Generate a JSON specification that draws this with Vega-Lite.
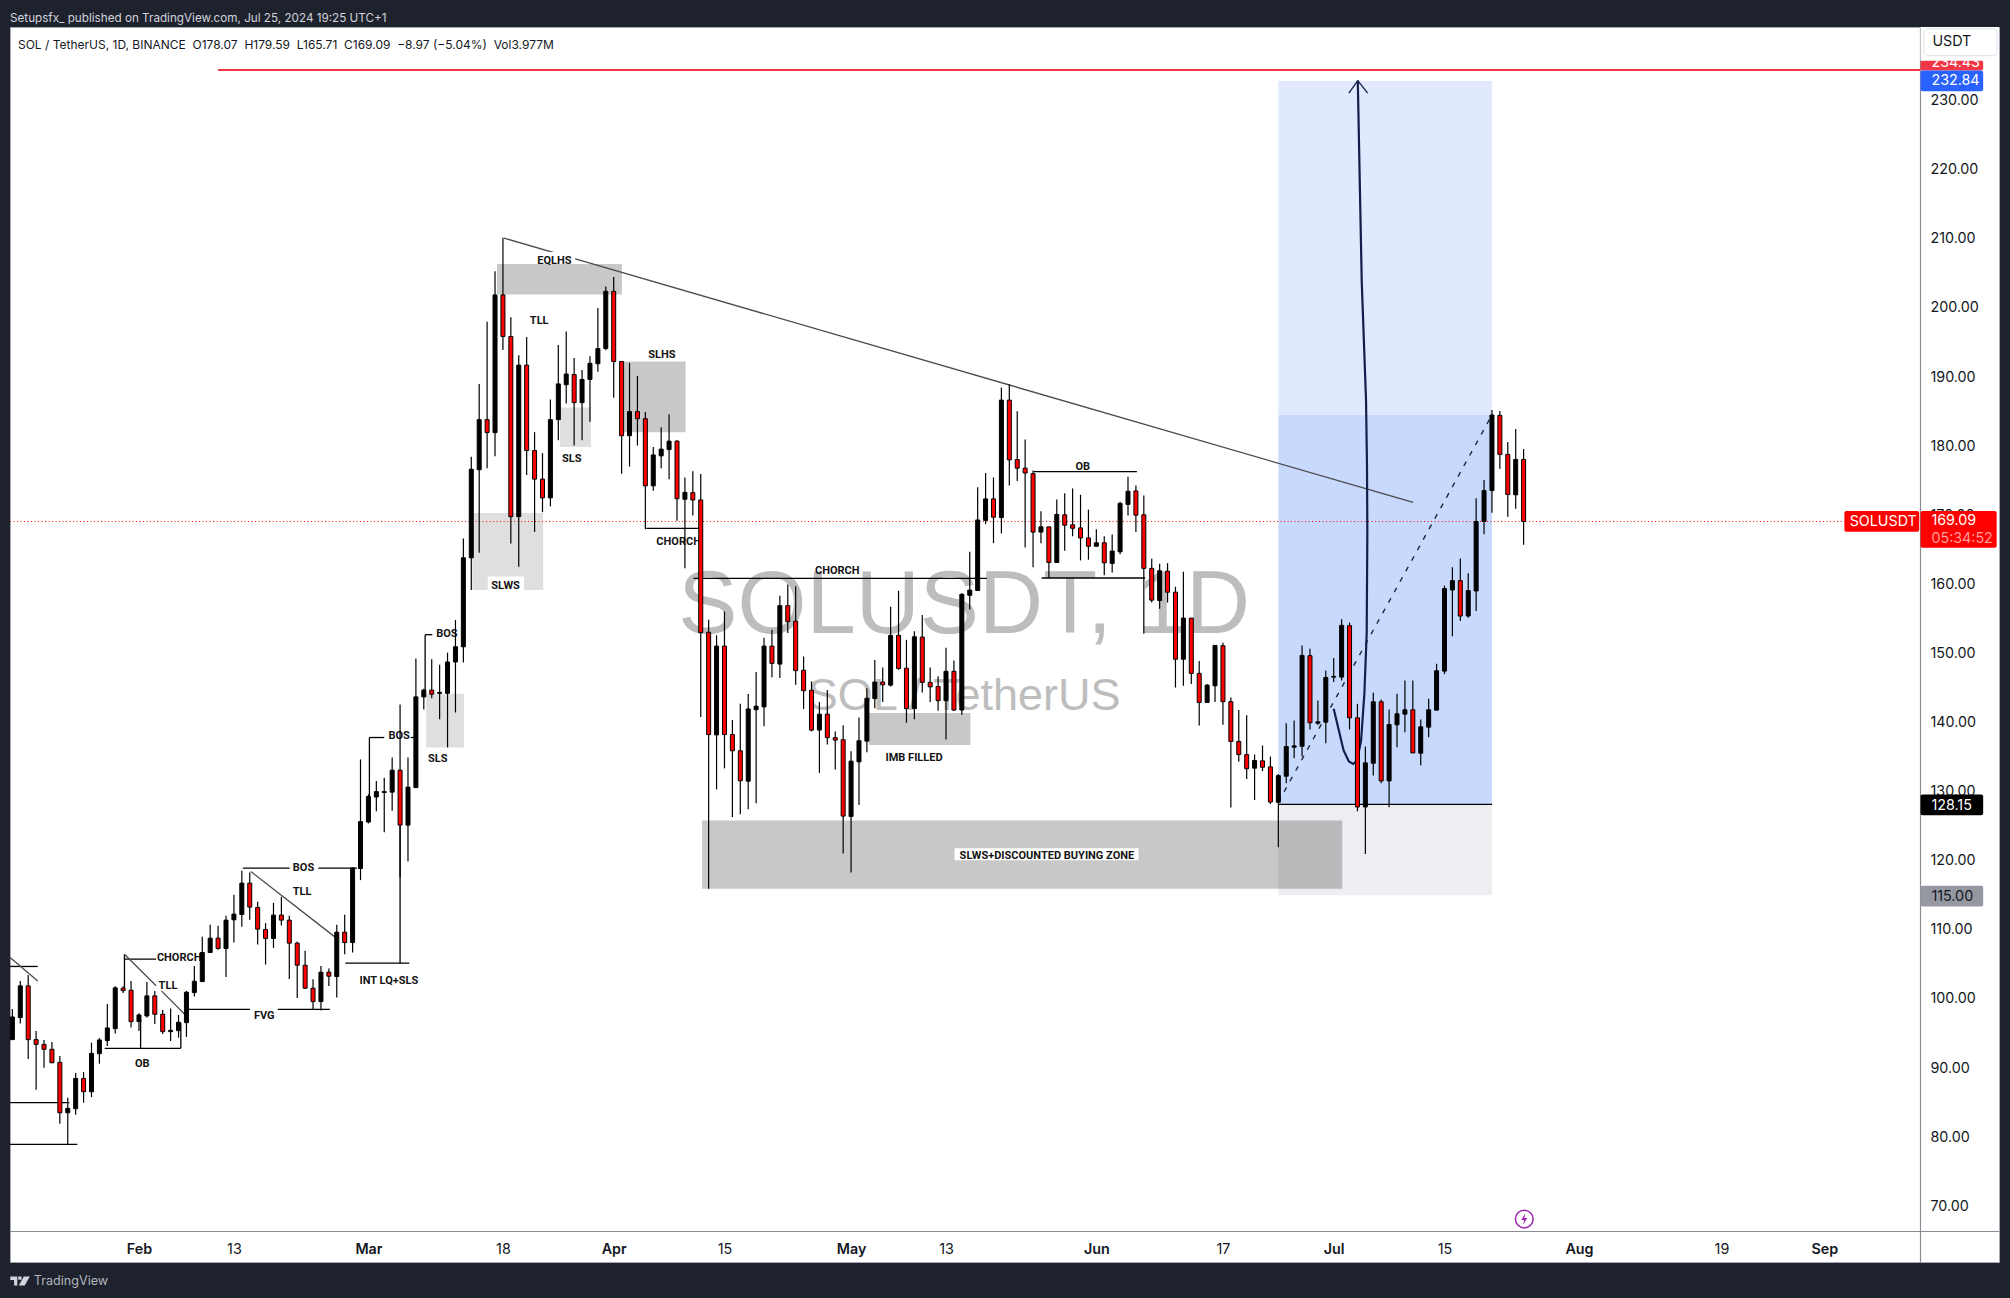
{"$schema":"https://vega.github.io/schema/vega-lite/v6.json","width":1989,"height":1235,"autosize":{"type":"none"},"padding":{"left":10,"top":27,"right":11,"bottom":36},"background":"#1e222d","view":{"fill":"white","stroke":"#a6a9b2"},
"title":{"text":"Setupsfx_ published on TradingView.com, Jul 25, 2024 19:25 UTC+1","anchor":"start","frame":"group","font":"Inter","fontSize":11.7,"fontWeight":400,"color":"#d1d4dc","offset":2},
"resolve":{"scale":{"color":"independent"}},
"datasets":{
"candles":[
{"date":"2024-01-16","open":94.11,"high":98.55,"low":94.11,"close":97.39},
{"date":"2024-01-17","open":97.3,"high":102.61,"low":96.43,"close":101.89},
{"date":"2024-01-18","open":101.89,"high":103.48,"low":91.31,"close":94.11},
{"date":"2024-01-19","open":94.11,"high":95.36,"low":86.86,"close":93.43},
{"date":"2024-01-20","open":93.43,"high":94.06,"low":90.05,"close":92.71},
{"date":"2024-01-21","open":92.71,"high":93.77,"low":90.68,"close":90.77},
{"date":"2024-01-22","open":90.82,"high":91.74,"low":81.93,"close":83.53},
{"date":"2024-01-23","open":83.53,"high":85.7,"low":78.94,"close":84.16},
{"date":"2024-01-24","open":84.11,"high":89.28,"low":83.24,"close":88.5},
{"date":"2024-01-25","open":88.5,"high":89.42,"low":84.98,"close":86.57},
{"date":"2024-01-26","open":86.57,"high":93.67,"low":85.8,"close":92.13},
{"date":"2024-01-27","open":92.08,"high":94.35,"low":90.63,"close":94.06},
{"date":"2024-01-28","open":93.96,"high":99.28,"low":93.19,"close":95.8},
{"date":"2024-01-29","open":95.7,"high":101.84,"low":94.98,"close":101.6},
{"date":"2024-01-30","open":101.55,"high":101.84,"low":100.87,"close":101.21},
{"date":"2024-01-31","open":101.26,"high":102.61,"low":95.85,"close":96.72},
{"date":"2024-02-01","open":96.72,"high":97.92,"low":95.36,"close":97.68},
{"date":"2024-02-02","open":97.54,"high":102.46,"low":97.3,"close":100.44},
{"date":"2024-02-03","open":100.44,"high":101.16,"low":96.38,"close":97.78},
{"date":"2024-02-04","open":97.78,"high":98.41,"low":94.93,"close":95.27},
{"date":"2024-02-05","open":95.27,"high":98.6,"low":93.91,"close":95.46},
{"date":"2024-02-06","open":95.41,"high":97.68,"low":94.4,"close":96.62},
{"date":"2024-02-07","open":96.57,"high":101.16,"low":94.49,"close":100.97},
{"date":"2024-02-08","open":100.92,"high":104.78,"low":100.34,"close":102.56},
{"date":"2024-02-09","open":102.51,"high":108.99,"low":102.51,"close":106.72},
{"date":"2024-02-10","open":106.72,"high":110.73,"low":106.72,"close":108.79},
{"date":"2024-02-11","open":108.79,"high":110.58,"low":107.1,"close":107.3},
{"date":"2024-02-12","open":107.3,"high":112.03,"low":103.19,"close":111.4},
{"date":"2024-02-13","open":111.45,"high":115.07,"low":108.17,"close":112.27},
{"date":"2024-02-14","open":112.22,"high":118.55,"low":110.44,"close":116.76},
{"date":"2024-02-15","open":116.76,"high":118.31,"low":111.45,"close":113.29},
{"date":"2024-02-16","open":113.24,"high":114.06,"low":107.88,"close":110.1},
{"date":"2024-02-17","open":110.05,"high":110.97,"low":104.98,"close":108.74},
{"date":"2024-02-18","open":108.74,"high":113.91,"low":107.39,"close":112.13},
{"date":"2024-02-19","open":112.13,"high":114.78,"low":110.63,"close":111.4},
{"date":"2024-02-20","open":111.4,"high":112.03,"low":102.9,"close":108.07},
{"date":"2024-02-21","open":108.07,"high":108.31,"low":100.15,"close":104.88},
{"date":"2024-02-22","open":104.88,"high":106.96,"low":101.45,"close":101.55},
{"date":"2024-02-23","open":101.55,"high":102.85,"low":98.55,"close":99.61},
{"date":"2024-02-24","open":99.61,"high":104.78,"low":98.31,"close":103.87},
{"date":"2024-02-25","open":103.87,"high":104.4,"low":101.88,"close":103.29},
{"date":"2024-02-26","open":103.24,"high":110.73,"low":100.2,"close":109.66},
{"date":"2024-02-27","open":109.66,"high":112.18,"low":106.48,"close":108.16},
{"date":"2024-02-28","open":108.16,"high":119.0,"low":106.72,"close":118.94},
{"date":"2024-02-29","open":118.87,"high":134.66,"low":117.19,"close":125.66},
{"date":"2024-03-01","open":125.6,"high":129.6,"low":125.4,"close":129.29},
{"date":"2024-03-02","open":129.22,"high":131.55,"low":127.15,"close":130.0},
{"date":"2024-03-03","open":129.87,"high":132.0,"low":124.11,"close":130.0},
{"date":"2024-03-04","open":129.93,"high":134.92,"low":127.22,"close":133.1},
{"date":"2024-03-05","open":133.1,"high":142.61,"low":117.64,"close":125.15},
{"date":"2024-03-06","open":125.15,"high":134.92,"low":119.9,"close":130.65},
{"date":"2024-03-07","open":130.58,"high":149.28,"low":130.58,"close":143.71},
{"date":"2024-03-08","open":143.71,"high":144.9,"low":141.9,"close":144.69},
{"date":"2024-03-09","open":144.69,"high":149.15,"low":143.52,"close":144.1},
{"date":"2024-03-10","open":144.23,"high":148.37,"low":140.48,"close":144.36},
{"date":"2024-03-11","open":144.23,"high":150.12,"low":136.4,"close":148.76},
{"date":"2024-03-12","open":148.76,"high":154.84,"low":141.45,"close":150.96},
{"date":"2024-03-13","open":150.96,"high":166.62,"low":148.7,"close":163.84},
{"date":"2024-03-14","open":163.84,"high":178.46,"low":159.18,"close":176.65},
{"date":"2024-03-15","open":176.58,"high":189.0,"low":164.55,"close":183.83},
{"date":"2024-03-16","open":183.83,"high":198.0,"low":176.78,"close":181.95},
{"date":"2024-03-17","open":181.95,"high":205.31,"low":178.52,"close":201.88},
{"date":"2024-03-18","open":201.88,"high":210.16,"low":193.92,"close":195.86},
{"date":"2024-03-19","open":195.86,"high":198.65,"low":165.91,"close":169.79},
{"date":"2024-03-20","open":169.79,"high":193.15,"low":162.54,"close":191.72},
{"date":"2024-03-21","open":191.72,"high":195.8,"low":175.81,"close":179.36},
{"date":"2024-03-22","open":179.36,"high":182.02,"low":167.59,"close":175.22},
{"date":"2024-03-23","open":175.22,"high":178.98,"low":170.44,"close":172.51},
{"date":"2024-03-24","open":172.51,"high":186.74,"low":171.28,"close":183.83},
{"date":"2024-03-25","open":183.83,"high":194.63,"low":180.85,"close":189.0},
{"date":"2024-03-26","open":188.88,"high":196.57,"low":186.16,"close":190.43},
{"date":"2024-03-27","open":190.36,"high":192.76,"low":180.08,"close":186.29},
{"date":"2024-03-28","open":186.29,"high":191.01,"low":180.85,"close":189.65},
{"date":"2024-03-29","open":189.65,"high":193.02,"low":183.51,"close":191.98},
{"date":"2024-03-30","open":191.92,"high":200.0,"low":190.75,"close":194.12},
{"date":"2024-03-31","open":194.12,"high":203.11,"low":193.86,"close":202.4},
{"date":"2024-04-01","open":202.4,"high":204.47,"low":187.0,"close":192.24},
{"date":"2024-04-02","open":192.24,"high":192.3,"low":176.0,"close":181.5},
{"date":"2024-04-03","open":181.5,"high":192.05,"low":177.04,"close":185.0},
{"date":"2024-04-04","open":185.0,"high":190.17,"low":180.08,"close":183.96},
{"date":"2024-04-05","open":183.96,"high":184.93,"low":167.98,"close":174.25},
{"date":"2024-04-06","open":174.25,"high":179.88,"low":173.54,"close":178.72},
{"date":"2024-04-07","open":178.59,"high":182.73,"low":176.78,"close":179.56},
{"date":"2024-04-08","open":179.5,"high":184.6,"low":175.22,"close":180.72},
{"date":"2024-04-09","open":180.72,"high":180.85,"low":169.21,"close":172.38},
{"date":"2024-04-10","open":172.31,"high":175.46,"low":162.31,"close":173.31},
{"date":"2024-04-11","open":173.26,"high":176.36,"low":169.96,"close":172.21},
{"date":"2024-04-12","open":172.21,"high":175.96,"low":140.81,"close":153.01},
{"date":"2024-04-13","open":153.06,"high":154.86,"low":115.96,"close":138.26},
{"date":"2024-04-14","open":138.21,"high":152.61,"low":130.31,"close":151.06},
{"date":"2024-04-15","open":151.06,"high":156.06,"low":133.36,"close":138.26},
{"date":"2024-04-16","open":138.26,"high":140.36,"low":126.31,"close":135.91},
{"date":"2024-04-17","open":135.91,"high":142.71,"low":126.71,"close":131.56},
{"date":"2024-04-18","open":131.51,"high":144.11,"low":127.46,"close":141.96},
{"date":"2024-04-19","open":141.86,"high":147.31,"low":128.31,"close":142.36},
{"date":"2024-04-20","open":142.26,"high":152.26,"low":139.46,"close":151.06},
{"date":"2024-04-21","open":151.06,"high":153.41,"low":146.56,"close":148.56},
{"date":"2024-04-22","open":148.46,"high":158.36,"low":146.46,"close":156.91},
{"date":"2024-04-23","open":156.91,"high":159.96,"low":152.96,"close":154.61},
{"date":"2024-04-24","open":154.66,"high":159.71,"low":145.46,"close":147.51},
{"date":"2024-04-25","open":147.56,"high":149.56,"low":141.96,"close":144.61},
{"date":"2024-04-26","open":144.66,"high":145.96,"low":138.71,"close":138.91},
{"date":"2024-04-27","open":138.91,"high":142.96,"low":132.71,"close":141.21},
{"date":"2024-04-28","open":141.21,"high":144.71,"low":136.81,"close":137.81},
{"date":"2024-04-29","open":137.81,"high":138.71,"low":133.21,"close":137.46},
{"date":"2024-04-30","open":137.51,"high":139.61,"low":121.06,"close":126.46},
{"date":"2024-05-01","open":126.41,"high":135.86,"low":118.31,"close":134.41},
{"date":"2024-05-02","open":134.31,"high":140.71,"low":128.06,"close":137.36},
{"date":"2024-05-03","open":137.31,"high":144.96,"low":135.71,"close":143.51},
{"date":"2024-05-04","open":143.46,"high":149.06,"low":142.06,"close":145.86},
{"date":"2024-05-05","open":145.86,"high":147.96,"low":142.96,"close":145.46},
{"date":"2024-05-06","open":145.41,"high":156.76,"low":145.21,"close":152.61},
{"date":"2024-05-07","open":152.61,"high":159.06,"low":147.61,"close":147.81},
{"date":"2024-05-08","open":147.86,"high":151.96,"low":139.96,"close":142.01},
{"date":"2024-05-09","open":142.01,"high":153.21,"low":140.46,"close":152.41},
{"date":"2024-05-10","open":152.36,"high":155.56,"low":144.36,"close":145.81},
{"date":"2024-05-11","open":145.81,"high":147.96,"low":142.96,"close":145.16},
{"date":"2024-05-12","open":145.21,"high":146.71,"low":141.71,"close":143.16},
{"date":"2024-05-13","open":143.16,"high":150.81,"low":137.56,"close":147.41},
{"date":"2024-05-14","open":147.41,"high":148.96,"low":141.66,"close":141.81},
{"date":"2024-05-15","open":141.81,"high":158.71,"low":141.11,"close":158.56},
{"date":"2024-05-16","open":158.41,"high":164.71,"low":156.36,"close":159.16},
{"date":"2024-05-17","open":159.11,"high":174.06,"low":159.06,"close":169.31},
{"date":"2024-05-18","open":169.26,"high":176.11,"low":168.71,"close":172.36},
{"date":"2024-05-19","open":172.36,"high":175.46,"low":165.96,"close":169.71},
{"date":"2024-05-20","open":169.66,"high":188.46,"low":167.36,"close":186.66},
{"date":"2024-05-21","open":186.66,"high":188.96,"low":174.31,"close":178.01},
{"date":"2024-05-22","open":178.06,"high":185.06,"low":174.96,"close":176.81},
{"date":"2024-05-23","open":176.81,"high":180.96,"low":165.31,"close":176.11},
{"date":"2024-05-24","open":176.01,"high":176.46,"low":162.46,"close":167.56},
{"date":"2024-05-25","open":167.56,"high":170.56,"low":165.96,"close":168.31},
{"date":"2024-05-26","open":168.31,"high":168.31,"low":160.96,"close":163.16},
{"date":"2024-05-27","open":163.16,"high":172.26,"low":163.16,"close":170.11},
{"date":"2024-05-28","open":170.06,"high":173.16,"low":164.86,"close":168.56},
{"date":"2024-05-29","open":168.61,"high":173.86,"low":166.96,"close":168.11},
{"date":"2024-05-30","open":168.16,"high":172.96,"low":163.46,"close":166.71},
{"date":"2024-05-31","open":166.71,"high":170.81,"low":163.56,"close":165.51},
{"date":"2024-06-01","open":165.51,"high":167.96,"low":165.46,"close":166.01},
{"date":"2024-06-02","open":166.01,"high":166.96,"low":161.31,"close":163.11},
{"date":"2024-06-03","open":163.01,"high":167.21,"low":161.71,"close":164.81},
{"date":"2024-06-04","open":164.71,"high":171.96,"low":164.36,"close":171.71},
{"date":"2024-06-05","open":171.56,"high":175.56,"low":169.96,"close":173.46},
{"date":"2024-06-06","open":173.51,"high":174.31,"low":167.56,"close":170.01},
{"date":"2024-06-07","open":170.06,"high":172.86,"low":152.86,"close":162.31},
{"date":"2024-06-08","open":162.31,"high":163.71,"low":157.36,"close":157.71},
{"date":"2024-06-09","open":157.66,"high":162.96,"low":156.46,"close":161.96},
{"date":"2024-06-10","open":161.91,"high":163.06,"low":157.36,"close":158.86},
{"date":"2024-06-11","open":158.86,"high":159.66,"low":145.06,"close":149.16},
{"date":"2024-06-12","open":149.16,"high":161.81,"low":145.31,"close":155.11},
{"date":"2024-06-13","open":155.11,"high":155.11,"low":145.56,"close":147.11},
{"date":"2024-06-14","open":147.11,"high":148.91,"low":139.56,"close":142.91},
{"date":"2024-06-15","open":142.91,"high":145.56,"low":142.86,"close":145.41},
{"date":"2024-06-16","open":145.31,"high":151.16,"low":142.96,"close":151.16},
{"date":"2024-06-17","open":151.11,"high":151.56,"low":139.66,"close":143.01},
{"date":"2024-06-18","open":143.01,"high":143.61,"low":127.71,"close":137.26},
{"date":"2024-06-19","open":137.26,"high":141.81,"low":134.31,"close":135.36},
{"date":"2024-06-20","open":135.36,"high":141.06,"low":131.81,"close":133.31},
{"date":"2024-06-21","open":133.39,"high":135.37,"low":128.8,"close":134.5},
{"date":"2024-06-22","open":134.45,"high":136.67,"low":132.95,"close":133.53},
{"date":"2024-06-23","open":133.58,"high":135.08,"low":128.2,"close":128.5},
{"date":"2024-06-24","open":128.46,"high":132.56,"low":121.94,"close":132.32},
{"date":"2024-06-25","open":132.23,"high":139.91,"low":131.21,"close":136.53},
{"date":"2024-06-26","open":136.43,"high":140.29,"low":134.83,"close":136.62},
{"date":"2024-06-27","open":136.57,"high":151.16,"low":135.08,"close":149.71},
{"date":"2024-06-28","open":149.67,"high":150.68,"low":138.99,"close":139.96},
{"date":"2024-06-29","open":139.9,"high":143.19,"low":139.66,"close":140.1},
{"date":"2024-06-30","open":140.05,"high":147.54,"low":137.0,"close":146.52},
{"date":"2024-07-01","open":146.57,"high":149.33,"low":145.85,"close":146.67},
{"date":"2024-07-02","open":146.57,"high":154.93,"low":146.09,"close":154.06},
{"date":"2024-07-03","open":154.01,"high":154.45,"low":138.99,"close":140.68},
{"date":"2024-07-04","open":140.68,"high":142.71,"low":127.15,"close":127.78},
{"date":"2024-07-05","open":127.78,"high":136.53,"low":120.97,"close":134.16},
{"date":"2024-07-06","open":134.11,"high":144.3,"low":132.32,"close":143.0},
{"date":"2024-07-07","open":143.0,"high":143.34,"low":131.21,"close":131.55},
{"date":"2024-07-08","open":131.55,"high":141.89,"low":127.74,"close":139.71},
{"date":"2024-07-09","open":139.67,"high":144.16,"low":136.43,"close":141.26},
{"date":"2024-07-10","open":141.21,"high":146.09,"low":138.6,"close":141.84},
{"date":"2024-07-11","open":141.84,"high":146.09,"low":135.6,"close":135.6},
{"date":"2024-07-12","open":135.56,"high":140.44,"low":133.82,"close":139.38},
{"date":"2024-07-13","open":139.33,"high":143.43,"low":137.88,"close":141.84},
{"date":"2024-07-14","open":141.79,"high":148.5,"low":141.79,"close":147.49},
{"date":"2024-07-15","open":147.44,"high":159.81,"low":147.0,"close":159.38},
{"date":"2024-07-16","open":159.18,"high":162.47,"low":152.47,"close":160.53},
{"date":"2024-07-17","open":160.53,"high":163.72,"low":154.69,"close":155.41},
{"date":"2024-07-18","open":155.41,"high":161.6,"low":155.17,"close":159.09},
{"date":"2024-07-19","open":159.04,"high":172.47,"low":156.14,"close":169.09},
{"date":"2024-07-20","open":169.09,"high":175.08,"low":167.25,"close":173.58},
{"date":"2024-07-21","open":173.58,"high":185.22,"low":170.34,"close":184.5},
{"date":"2024-07-22","open":184.45,"high":185.08,"low":176.72,"close":178.8},
{"date":"2024-07-23","open":178.8,"high":180.58,"low":169.76,"close":173.0},
{"date":"2024-07-24","open":172.95,"high":182.47,"low":170.92,"close":178.07},
{"date":"2024-07-25","open":178.07,"high":179.59,"low":165.71,"close":169.09}
],
"zones":[
{"kind":"target","d1":"2024-06-24","d2":"2024-07-21","p1":184.5,"p2":232.84},
{"kind":"profit","d1":"2024-06-24","d2":"2024-07-21","p1":128.15,"p2":184.5},
{"kind":"risk","d1":"2024-06-24","d2":"2024-07-21","p1":115,"p2":128.15},
{"kind":"dark","d1":"2024-03-17T06:00Z","d2":"2024-04-02T01:00Z","p1":201.95,"p2":206.34},
{"kind":"dark","d1":"2024-04-02T02:00Z","d2":"2024-04-10T02:00Z","p1":182.02,"p2":192.24},
{"kind":"light","d1":"2024-03-25T05:00Z","d2":"2024-03-29T03:00Z","p1":179.88,"p2":185.58},
{"kind":"light","d1":"2024-03-14T03:00Z","d2":"2024-03-23T02:00Z","p1":159.18,"p2":170.31},
{"kind":"light","d1":"2024-03-08T07:00Z","d2":"2024-03-13T02:00Z","p1":136.4,"p2":144.17},
{"kind":"dark","d1":"2024-04-12T04:00Z","d2":"2024-07-02T02:00Z","p1":115.96,"p2":125.81},
{"kind":"dark","d1":"2024-05-03T06:00Z","d2":"2024-05-16T02:00Z","p1":136.76,"p2":141.36}
],
"lines":[
{"kind":"ink","d1":"2024-01-15T17:00Z","p1":104.7,"d2":"2024-01-19T05:00Z","p2":104.7},
{"kind":"trend","d1":"2024-01-15T17:00Z","p1":106.0,"d2":"2024-01-19T05:00Z","p2":102.6},
{"kind":"ink","d1":"2024-01-15T17:00Z","p1":84.98,"d2":"2024-01-23T05:00Z","p2":84.98},
{"kind":"ink","d1":"2024-01-15T17:00Z","p1":78.94,"d2":"2024-01-24T05:00Z","p2":78.94},
{"kind":"ink","d1":"2024-01-30T04:00Z","p1":106.47,"d2":"2024-01-30T04:00Z","p2":101.55},
{"kind":"ink","d1":"2024-01-30T04:00Z","p1":105.75,"d2":"2024-02-03T04:00Z","p2":105.75},
{"kind":"trend","d1":"2024-01-30T04:00Z","p1":106.47,"d2":"2024-02-03T04:00Z","p2":101.9},
{"kind":"trend","d1":"2024-02-03T20:00Z","p1":101.16,"d2":"2024-02-07T00:00Z","p2":97.54},
{"kind":"ink","d1":"2024-01-27T16:00Z","p1":92.85,"d2":"2024-02-06T07:00Z","p2":92.85},
{"kind":"ink","d1":"2024-02-01T05:00Z","p1":97,"d2":"2024-02-01T05:00Z","p2":92.85},
{"kind":"ink","d1":"2024-02-06T07:00Z","p1":96.5,"d2":"2024-02-06T07:00Z","p2":92.85},
{"kind":"ink","d1":"2024-02-07T06:00Z","p1":98.5,"d2":"2024-02-15T01:00Z","p2":98.5},
{"kind":"ink","d1":"2024-02-18T13:00Z","p1":98.5,"d2":"2024-02-25T03:00Z","p2":98.5},
{"kind":"ink","d1":"2024-02-14T03:00Z","p1":118.94,"d2":"2024-02-20T01:00Z","p2":118.94},
{"kind":"ink","d1":"2024-02-23T16:00Z","p1":118.94,"d2":"2024-02-28T13:00Z","p2":118.94},
{"kind":"trend","d1":"2024-02-15T03:00Z","p1":118.45,"d2":"2024-02-25T23:00Z","p2":108.8},
{"kind":"ink","d1":"2024-02-27T02:00Z","p1":105.17,"d2":"2024-03-06T04:00Z","p2":105.17},
{"kind":"ink","d1":"2024-03-05","p1":125,"d2":"2024-03-05","p2":105.17},
{"kind":"ink","d1":"2024-03-01T03:00Z","p1":137.83,"d2":"2024-03-01T03:00Z","p2":129.3},
{"kind":"ink","d1":"2024-03-01T03:00Z","p1":137.83,"d2":"2024-03-03","p2":137.83},
{"kind":"ink","d1":"2024-03-06T08:00Z","p1":137.83,"d2":"2024-03-06T22:00Z","p2":137.83},
{"kind":"ink","d1":"2024-03-08T04:00Z","p1":152.71,"d2":"2024-03-08T04:00Z","p2":144.7},
{"kind":"ink","d1":"2024-03-08T04:00Z","p1":152.71,"d2":"2024-03-09T02:00Z","p2":152.71},
{"kind":"ink","d1":"2024-03-12T19:00Z","p1":152.71,"d2":"2024-03-13T02:00Z","p2":152.71},
{"kind":"ink","d1":"2024-04-05T03:00Z","p1":168.1,"d2":"2024-04-11T20:00Z","p2":168.1},
{"kind":"ink","d1":"2024-04-11T02:00Z","p1":160.86,"d2":"2024-05-18T04:00Z","p2":160.86},
{"kind":"ink","d1":"2024-05-24T02:00Z","p1":176.31,"d2":"2024-06-06T03:00Z","p2":176.31},
{"kind":"ink","d1":"2024-05-25T02:00Z","p1":160.91,"d2":"2024-06-07T04:00Z","p2":160.91},
{"kind":"ink","d1":"2024-06-24","p1":128.15,"d2":"2024-07-21","p2":128.15},
{"kind":"trend","d1":"2024-03-18T03:00Z","p1":210.1,"d2":"2024-07-11T01:00Z","p2":171.85},
{"kind":"arrow","d1":"2024-07-02T22:00Z","p1":231.08,"d2":"2024-07-04T01:00Z","p2":232.9},
{"kind":"arrow","d1":"2024-07-05T07:00Z","p1":231.08,"d2":"2024-07-04T01:00Z","p2":232.9}
],
"masks":[
{"d1":"2024-03-22T01:00Z","d2":"2024-03-27T03:00Z","p1":206.34,"p2":208.1},
{"d1":"2024-03-16T02:00Z","d2":"2024-03-20T16:00Z","p1":159.18,"p2":161.12},
{"d1":"2024-05-14T02:00Z","d2":"2024-06-06T08:00Z","p1":120.06,"p2":121.81}
],
"notes":[
{"label":"CHORCH","date":"2024-02-06T02:00Z","price":106.1},
{"label":"TLL","date":"2024-02-04T16:00Z","price":102.13},
{"label":"OB","date":"2024-02-01T10:00Z","price":90.87},
{"label":"FVG","date":"2024-02-16T20:00Z","price":97.68},
{"label":"BOS","date":"2024-02-21T19:00Z","price":119.13},
{"label":"TLL","date":"2024-02-21T15:00Z","price":115.65},
{"label":"INT LQ+SLS","date":"2024-03-03T14:00Z","price":102.85},
{"label":"BOS","date":"2024-03-04T21:00Z","price":138.2},
{"label":"BOS","date":"2024-03-10T22:00Z","price":153.03},
{"label":"SLS","date":"2024-03-09T18:00Z","price":134.92},
{"label":"SLWS","date":"2024-03-18T08:00Z","price":160.02},
{"label":"SLS","date":"2024-03-26T17:00Z","price":178.39},
{"label":"EQLHS","date":"2024-03-24T12:00Z","price":207.06},
{"label":"SLHS","date":"2024-04-07T02:00Z","price":193.47},
{"label":"TLL","date":"2024-03-22T14:00Z","price":198.26},
{"label":"CHORCH","date":"2024-04-09T05:00Z","price":166.36},
{"label":"CHORCH","date":"2024-04-29T06:00Z","price":162.11},
{"label":"OB","date":"2024-05-30T07:00Z","price":177.16},
{"label":"IMB FILLED","date":"2024-05-08T23:00Z","price":135.06},
{"label":"SLWS+DISCOUNTED BUYING ZONE","date":"2024-05-25T18:00Z","price":120.86}
],
"curve":[
{"i":1,"date":"2024-07-01T00:00Z","price":141.98},
{"i":2,"date":"2024-07-01T12:00Z","price":139.57},
{"i":3,"date":"2024-07-02T06:00Z","price":135.95},
{"i":4,"date":"2024-07-02T22:00Z","price":134.35},
{"i":5,"date":"2024-07-03T11:00Z","price":134.0},
{"i":6,"date":"2024-07-03T23:00Z","price":134.5},
{"i":7,"date":"2024-07-04T11:00Z","price":137.4},
{"i":8,"date":"2024-07-04T21:00Z","price":144.16},
{"i":9,"date":"2024-07-05T04:00Z","price":152.85},
{"i":10,"date":"2024-07-05T06:00Z","price":167.3},
{"i":11,"date":"2024-07-05T05:00Z","price":177.0},
{"i":12,"date":"2024-07-05T02:00Z","price":186.67},
{"i":13,"date":"2024-07-04T13:00Z","price":203.8},
{"i":14,"date":"2024-07-04T01:00Z","price":232.9}
],
"dash":[{"d1":"2024-06-24","p1":128.46,"d2":"2024-07-21","p2":184.5}],
"redline":[{"d1":"2024-02-11","p1":234.43,"d2":"2024-09-13T04:00Z","p2":234.43}],
"pricedots":[{"d1":"2024-01-15T17:00Z","p1":169.09,"d2":"2024-09-03T13:00Z","p2":169.09}],
"tags":[
{"kind":"alert","d1":"2024-09-13T04:00Z","d2":"2024-09-21T02:00Z","p1":234.35,"p2":235.8},
{"kind":"blue","d1":"2024-09-13T04:00Z","d2":"2024-09-21T02:00Z","p1":231.35,"p2":234.35},
{"kind":"last","d1":"2024-09-03T13:00Z","d2":"2024-09-13T00:00Z","p1":167.6,"p2":170.6},
{"kind":"last","d1":"2024-09-13T04:00Z","d2":"2024-09-22T19:00Z","p1":165.3,"p2":170.6},
{"kind":"black","d1":"2024-09-13T04:00Z","d2":"2024-09-21T02:00Z","p1":126.57,"p2":129.57},
{"kind":"stop","d1":"2024-09-13T04:00Z","d2":"2024-09-21T02:00Z","p1":113.38,"p2":116.38}
],
"tagtext":[
{"kind":"on","label":"234.43","date":"2024-09-14T13:00Z","price":235.5},
{"kind":"on","label":"232.84","date":"2024-09-14T13:00Z","price":232.8},
{"kind":"on","label":"169.09","date":"2024-09-14T13:00Z","price":169.1},
{"kind":"dim","label":"05:34:52","date":"2024-09-14T13:00Z","price":166.6},
{"kind":"on","label":"SOLUSDT","date":"2024-09-04T05:00Z","price":168.99},
{"kind":"on","label":"128.15","date":"2024-09-14T13:00Z","price":127.93},
{"kind":"off","label":"115.00","date":"2024-09-14T13:00Z","price":114.78}
],
"topcover":[{"d1":"2024-09-13T04:00Z","d2":"2024-09-23T02:00Z","p1":235.8,"p2":240.65}],
"unitbox":[{"label":"USDT","d1":"2024-09-13T14:00Z","d2":"2024-09-22T20:00Z","p1":236.5,"p2":240.4,"date":"2024-09-14T16:00Z","price":238.45}],
"legendline":[{"label":"SOL / TetherUS, 1D, BINANCE\u00a0\u00a0O178.07\u00a0\u00a0H179.59\u00a0\u00a0L165.71\u00a0\u00a0C169.09\u00a0\u00a0\u22128.97 (\u22125.04%)\u00a0\u00a0Vol3.977M","date":"2024-01-16T17:00Z","price":238.05}],
"footer":[{"label":"TradingView","date":"2024-01-18T17:00Z","price":59.18}],
"logo":[{"date":"2024-01-17T00:00Z","price":59.18}],
"bolt":[{"date":"2024-07-25T02:00Z","price":68.15}],
"big":[{"label":"SOLUSDT, 1D","date":"2024-05-15T07:00Z","price":156.9}],
"sub":[{"label":"SOL / TetherUS","date":"2024-05-15T07:00Z","price":143.8}]
},
"layer":[
{"data":{"name":"big","format":{"parse":{"date":"date"}}},"mark":{"type":"text","font":"Liberation Sans","fontSize":88.7,"color":"#bdbdbd","baseline":"middle","align":"center"},
"encoding":{"x":{"field":"date","type":"temporal","scale":{"type":"utc","nice":false,"padding":0,"domain":["2024-01-15T16:48:00Z","2024-09-23T02:00:00Z"]},"axis":{"title":null,"values":["2024-02-01","2024-02-13","2024-03-01","2024-03-18","2024-04-01","2024-04-15","2024-05-01","2024-05-13","2024-06-01","2024-06-17","2024-07-01","2024-07-15","2024-08-01","2024-08-19","2024-09-01"],"labelExpr":"utcdate(datum.value)===1?utcFormat(datum.value,'%b'):utcFormat(datum.value,'%d')","labelFontWeight":{"condition":{"test":"utcdate(datum.value)===1","value":600},"value":400},"offset":-31,"grid":false,"ticks":false,"labelPadding":11,"labelFont":"Inter","labelFontSize":14.3,"labelColor":"#131722","domainColor":"#8a8d96","domainWidth":1.2,"labelFlush":false,"labelOverlap":false,"labelBound":false}},
"y":{"field":"price","type":"quantitative","scale":{"domain":[61.93,240.65],"nice":false,"zero":false},"axis":{"title":null,"orient":"right","values":[70,80,90,100,110,120,130,140,150,160,170,180,190,200,210,220,230],"format":".2f","offset":-79,"grid":false,"ticks":false,"labelPadding":10,"labelFont":"Inter","labelFontSize":14.3,"labelColor":"#131722","domainColor":"#8a8d96","domainWidth":1.2,"labelOverlap":false,"labelBound":false}},
"text":{"field":"label"}}},
{"data":{"name":"sub","format":{"parse":{"date":"date"}}},"mark":{"type":"text","font":"Liberation Sans","fontSize":45,"color":"#bdbdbd","baseline":"middle","align":"center"},
"encoding":{"x":{"field":"date","type":"temporal"},"y":{"field":"price","type":"quantitative"},"text":{"field":"label"}}},
{"data":{"name":"zones","format":{"parse":{"d1":"date","d2":"date"}}},"mark":{"type":"rect"},
"encoding":{"x":{"field":"d1","type":"temporal"},"x2":{"field":"d2"},"y":{"field":"p1","type":"quantitative"},"y2":{"field":"p2"},"color":{"field":"kind","type":"nominal","legend":null,"scale":{"domain":["target","profit","risk","dark","light"],"range":["#e0e9fd","#c8d9fe","#edeef1","rgba(0,0,0,0.216)","rgba(0,0,0,0.125)"]}}}},
{"data":{"name":"redline","format":{"parse":{"d1":"date","d2":"date"}}},"mark":{"type":"rule","color":"#f23645","strokeWidth":2},
"encoding":{"x":{"field":"d1","type":"temporal"},"x2":{"field":"d2"},"y":{"field":"p1","type":"quantitative"},"y2":{"field":"p2"}}},
{"data":{"name":"pricedots","format":{"parse":{"d1":"date","d2":"date"}}},"mark":{"type":"rule","color":"#ff0000","strokeWidth":1,"strokeDash":[1,2.5]},
"encoding":{"x":{"field":"d1","type":"temporal"},"x2":{"field":"d2"},"y":{"field":"p1","type":"quantitative"},"y2":{"field":"p2"}}},
{"data":{"name":"dash","format":{"parse":{"d1":"date","d2":"date"}}},"mark":{"type":"rule","color":"#222633","strokeWidth":1.4,"strokeDash":[5,7]},
"encoding":{"x":{"field":"d1","type":"temporal"},"x2":{"field":"d2"},"y":{"field":"p1","type":"quantitative"},"y2":{"field":"p2"}}},
{"data":{"name":"lines","format":{"parse":{"d1":"date","d2":"date"}}},"mark":{"type":"rule","strokeWidth":1.3},
"encoding":{"x":{"field":"d1","type":"temporal"},"x2":{"field":"d2"},"y":{"field":"p1","type":"quantitative"},"y2":{"field":"p2"},"color":{"field":"kind","type":"nominal","legend":null,"scale":{"domain":["ink","trend","arrow"],"range":["#000000","#4a4a4a","#131f4a"]}}}},
{"data":{"name":"masks","format":{"parse":{"d1":"date","d2":"date"}}},"mark":{"type":"rect","color":"#ffffff"},
"encoding":{"x":{"field":"d1","type":"temporal"},"x2":{"field":"d2"},"y":{"field":"p1","type":"quantitative"},"y2":{"field":"p2"}}},
{"data":{"name":"notes","format":{"parse":{"date":"date"}}},"mark":{"type":"text","font":"Roboto","fontWeight":700,"fontSize":11,"color":"#131313","baseline":"middle","align":"center","dy":1.5},
"encoding":{"x":{"field":"date","type":"temporal"},"y":{"field":"price","type":"quantitative"},"text":{"field":"label"}}},
{"data":{"name":"curve","format":{"parse":{"date":"date"}}},"mark":{"type":"line","color":"#131f4a","strokeWidth":2.2},
"encoding":{"x":{"field":"date","type":"temporal"},"y":{"field":"price","type":"quantitative"},"order":{"field":"i"}}},
{"data":{"name":"candles","format":{"parse":{"date":"date"}}},"mark":{"type":"rule","color":"#000000","strokeWidth":1.2},
"encoding":{"x":{"field":"date","type":"temporal"},"y":{"field":"low","type":"quantitative"},"y2":{"field":"high"}}},
{"data":{"name":"candles","format":{"parse":{"date":"date"}}},"mark":{"type":"bar","size":4,"stroke":"#000000","strokeWidth":1},
"encoding":{"x":{"field":"date","type":"temporal","scale":{"type":"utc","nice":false,"padding":0,"domain":["2024-01-15T16:48:00Z","2024-09-23T02:00:00Z"]}},"y":{"field":"open","type":"quantitative"},"y2":{"field":"close"},"color":{"condition":{"test":"datum.close>=datum.open","value":"#000000"},"value":"#ff0000"}}},
{"data":{"name":"tags","format":{"parse":{"d1":"date","d2":"date"}}},"mark":{"type":"rect","cornerRadius":2},
"encoding":{"x":{"field":"d1","type":"temporal"},"x2":{"field":"d2"},"y":{"field":"p1","type":"quantitative"},"y2":{"field":"p2"},"color":{"field":"kind","type":"nominal","legend":null,"scale":{"domain":["alert","blue","last","black","stop"],"range":["#f23645","#2962ff","#ff0000","#000000","#9598a1"]}}}},
{"data":{"name":"tagtext","format":{"parse":{"date":"date"}}},"mark":{"type":"text","font":"Inter","fontSize":14.3,"align":"left","baseline":"middle"},
"encoding":{"x":{"field":"date","type":"temporal"},"y":{"field":"price","type":"quantitative"},"text":{"field":"label"},"color":{"field":"kind","type":"nominal","legend":null,"scale":{"domain":["on","dim","off"],"range":["#ffffff","#ff9c9c","#131722"]}}}},
{"data":{"name":"topcover","format":{"parse":{"d1":"date","d2":"date"}}},"mark":{"type":"rect","color":"#ffffff"},
"encoding":{"x":{"field":"d1","type":"temporal"},"x2":{"field":"d2"},"y":{"field":"p1","type":"quantitative"},"y2":{"field":"p2"}}},
{"data":{"name":"unitbox","format":{"parse":{"d1":"date","d2":"date"}}},"mark":{"type":"rect","fill":"#ffffff","stroke":"#e0e3eb","strokeWidth":1,"cornerRadius":4},
"encoding":{"x":{"field":"d1","type":"temporal"},"x2":{"field":"d2"},"y":{"field":"p1","type":"quantitative"},"y2":{"field":"p2"}}},
{"data":{"name":"unitbox","format":{"parse":{"date":"date"}}},"mark":{"type":"text","font":"Inter","fontSize":14.3,"color":"#131722","align":"left","baseline":"middle"},
"encoding":{"x":{"field":"date","type":"temporal"},"y":{"field":"price","type":"quantitative"},"text":{"field":"label"}}},
{"data":{"name":"legendline","format":{"parse":{"date":"date"}}},"mark":{"type":"text","font":"Inter","fontSize":12,"color":"#131722","align":"left","baseline":"middle"},
"encoding":{"x":{"field":"date","type":"temporal"},"y":{"field":"price","type":"quantitative"},"text":{"field":"label"}}},
{"data":{"name":"footer","format":{"parse":{"date":"date"}}},"mark":{"type":"text","font":"Inter","fontSize":12.6,"color":"#b2b5be","align":"left","baseline":"middle"},
"encoding":{"x":{"field":"date","type":"temporal"},"y":{"field":"price","type":"quantitative"},"text":{"field":"label"}}},
{"data":{"name":"logo","format":{"parse":{"date":"date"}}},"mark":{"type":"point","filled":true,"color":"#d1d4dc","size":400,"opacity":1,"shape":"M-1,-.45 H-.3 V.45 H-.62 V-.1 H-1 Z M-.2,-.45 H.12 V-.12 H-.2 Z M.35,-.45 H.95 L.45,.45 H-.15 Z"},
"encoding":{"x":{"field":"date","type":"temporal"},"y":{"field":"price","type":"quantitative"}}},
{"data":{"name":"bolt","format":{"parse":{"date":"date"}}},"mark":{"type":"point","filled":false,"color":"#9c27b0","strokeWidth":1.5,"size":314,"opacity":1,"shape":"circle"},
"encoding":{"x":{"field":"date","type":"temporal"},"y":{"field":"price","type":"quantitative"}}},
{"data":{"name":"bolt","format":{"parse":{"date":"date"}}},"mark":{"type":"point","filled":true,"color":"#9c27b0","size":400,"opacity":1,"shape":"M.1,-.55 L-.3,.1 H-.02 L-.1,.55 L.3,-.1 H.02 Z"},
"encoding":{"x":{"field":"date","type":"temporal"},"y":{"field":"price","type":"quantitative"}}}
]}
